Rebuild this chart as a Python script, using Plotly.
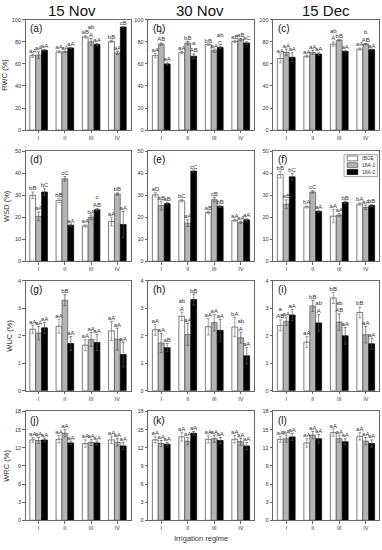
import plotly.graph_objects as go

categories = ["I", "II", "III", "IV"]
series_names = ["IBGE", "18A-1", "18A-2"]
dates = ["15 Nov", "30 Nov", "15 Dec"]
variables = ["RWC (%)", "WSD (%)", "WUC (%)", "WRC (%)"]
panel_letters = ["(a)", "(b)", "(c)", "(d)", "(e)", "(f)", "(g)", "(h)", "(i)", "(j)", "(k)", "(l)"]

# values per panel: [IBGE, 18A-1, 18A-2], each over I..IV
rwc_15nov = [[67.5, 71, 84.5, 80.5], [68, 71, 80, 70], [72.5, 74.5, 77.5, 93.5]]
rwc_30nov = [[67.5, 70.5, 77.5, 80.5], [78, 79, 72, 82], [60, 67, 75, 79]]
rwc_15dec = [[65, 67, 78, 73.5], [70.5, 70.5, 81.5, 78], [66, 69, 71.5, 73]]
wsd_15nov = [[30, 27.7, 16, 18], [20.4, 37.5, 20, 30.6], [31.5, 16.4, 23.4, 16.7]]
wsd_30nov = [[30.2, 27.5, 22.2, 18.6], [25.3, 17.3, 28, 17.6], [26.2, 41, 24.9, 18.8]]
wsd_15dec = [[39.4, 24.7, 20.5, 26], [25.9, 31.5, 21, 24.5], [38.4, 22.6, 26.8, 25.3]]
wuc_15nov = [[2.24, 2.35, 1.66, 2.18], [2.1, 3.3, 1.87, 1.88], [2.29, 1.72, 1.76, 1.32]]
wuc_30nov = [[2.22, 2.71, 2.33, 2.32], [1.74, 2.05, 2.48, 1.93], [1.57, 3.32, 2.2, 1.27]]
wuc_15dec = [[2.38, 1.77, 3.38, 2.85], [2.53, 3.09, 2.5, 2.04], [2.76, 2.47, 2.0, 1.71]]
wrc_15nov = [[13.3, 13.4, 12.7, 13.3], [13.2, 14.4, 12.9, 12.9], [13.3, 12.8, 12.8, 12.3]]
wrc_30nov = [[13.3, 13.8, 13.4, 13.4], [12.7, 13.1, 13.5, 13.0], [12.6, 14.4, 13.2, 12.3]]
wrc_15dec = [[13.4, 12.8, 14.5, 13.9], [13.5, 14.1, 13.5, 13.1], [13.8, 13.5, 13.0, 12.7]]

# standard errors
rwc_15nov_err = [[1.5, 1, 1, 1], [3, 0.5, 3, 1.5], [0.5, 0.5, 1, 0.5]]
rwc_30nov_err = [[2, 1, 0.5, 1], [1, 1.5, 1.5, 1], [1, 2, 1, 1]]
rwc_15dec_err = [[4, 1, 2, 1], [3, 2, 0.5, 0.5], [4, 1, 0.5, 0.5]]
wsd_15nov_err = [[1.5, 1, 0.5, 2], [2, 1, 1, 0.5], [1.5, 0.5, 0.5, 6]]
wsd_30nov_err = [[1, 0.5, 0.5, 0.5], [2, 1.5, 1, 0.5], [0.5, 0.5, 0.5, 0.5]]
wsd_15dec_err = [[1.5, 0.5, 3, 0.5], [2, 0.5, 0.5, 1], [1.5, 0.5, 0.5, 0.5]]
wuc_15nov_err = [[0.15, 0.25, 0.2, 0.35], [0.25, 0.2, 0.25, 0.4], [0.2, 0.25, 0.3, 0.45]]
wuc_30nov_err = [[0.2, 0.15, 0.3, 0.35], [0.35, 0.4, 0.3, 0.2], [0.15, 0.2, 0.4, 0.3]]
wuc_15dec_err = [[0.2, 0.2, 0.2, 0.2], [0.15, 0.2, 0.3, 0.3], [0.2, 0.3, 0.3, 0.2]]
wrc_15nov_err = [[0.4, 0.6, 0.6, 0.6], [0.5, 0.6, 0.5, 0.6], [0.3, 0.3, 0.3, 0.6]]
wrc_30nov_err = [[0.5, 0.7, 0.6, 0.6], [0.5, 0.6, 0.6, 0.6], [0.3, 0.3, 0.5, 0.6]]
wrc_15dec_err = [[0.5, 0.7, 0.6, 0.6], [0.6, 0.6, 0.6, 0.6], [0.6, 0.7, 0.5, 0.6]]

# significance letters
rwc_15nov_lab = [["aA", "aA", "aB", "bB"], ["aA", "aA", "ab<br>A", "aA"], ["aA", "aA", "aA", "cB"]]
rwc_30nov_lab = [["aA", "aA", "bB", "aB"], ["b<br>AB", "bB", "aA", "aB"], ["aA", "a<br>AB", "ab<br>C", "aC"]]
rwc_15dec_lab = [["aA", "aA", "ab<br>A", "aA"], ["aA", "aA", "bB", "b<br>AB"], ["aA", "aA", "aA", "aA"]]
wsd_15nov_lab = [["bB", "bB", "aA", "aA"], ["aA", "cC", "bA", "bB"], ["bC", "aA", "c<br>AB", "aA"]]
wsd_30nov_lab = [["aD", "bC", "aB", "aA"], ["aB", "aA", "cB", "aA"], ["aB", "cC", "bB", "aA"]]
wsd_15dec_lab = [["bB", "bA", "aA", "bA"], ["aB", "cC", "aA", "aA"], ["bC", "aA", "bB", "bB"]]
wuc_15nov_lab = [["aA", "aA", "aA", "aA"], ["aA", "bB", "aA", "aA"], ["aA", "aA", "aA", "aA"]]
wuc_30nov_lab = [["aA", "ab<br>A", "aA", "bA"], ["aA", "aA", "aA", "ab<br>A"], ["aB", "bB", "aA", "aA"]]
wuc_15dec_lab = [["a<br>AB", "aA", "bB", "bB"], ["aA", "bB", "ab<br>AB", "aA"], ["aA", "ab<br>A", "aA", "aA"]]
wrc_15nov_lab = [["aA"] * 4, ["aA"] * 4, ["aA"] * 4]
wrc_30nov_lab = [["aA"] * 4, ["aA"] * 4, ["aA"] * 4]
wrc_15dec_lab = [["aA"] * 4, ["aA"] * 4, ["aA"] * 4]

y_ranges = [100, 50, 4, 18]
y_dticks = [20, 10, 1, 3]

panels = [
    [(rwc_15nov, rwc_15nov_err, rwc_15nov_lab), (rwc_30nov, rwc_30nov_err, rwc_30nov_lab), (rwc_15dec, rwc_15dec_err, rwc_15dec_lab)],
    [(wsd_15nov, wsd_15nov_err, wsd_15nov_lab), (wsd_30nov, wsd_30nov_err, wsd_30nov_lab), (wsd_15dec, wsd_15dec_err, wsd_15dec_lab)],
    [(wuc_15nov, wuc_15nov_err, wuc_15nov_lab), (wuc_30nov, wuc_30nov_err, wuc_30nov_lab), (wuc_15dec, wuc_15dec_err, wuc_15dec_lab)],
    [(wrc_15nov, wrc_15nov_err, wrc_15nov_lab), (wrc_30nov, wrc_30nov_err, wrc_30nov_lab), (wrc_15dec, wrc_15dec_err, wrc_15dec_lab)],
]

W, H = 382, 550
FONT = "Arial, Liberation Sans, sans-serif"
fills = ["#ffffff", "#b4b4b4", "#000000"]
lines = ["#444444", "#555555", "#000000"]
err_colors = ["#777777", "#555555", "#555555"]

col_px = [(25.5, 130.5), (148, 254), (273, 379)]
row_px = [(17, 128.5), (150, 261), (281, 392), (413, 523)]
title_cx = [72, 200, 326]

xpos = [1, 2, 3, 4]
bw = 0.22
offsets = [-0.225, 0.0, 0.225]

fig = go.Figure()
layout_axes = {}
annotations = []
shapes = []

for r in range(4):
    for c in range(3):
        idx = r * 3 + c + 1
        xa = "x" if idx == 1 else f"x{idx}"
        ya = "y" if idx == 1 else f"y{idx}"
        vals, errs, labs = panels[r][c]
        for s in range(3):
            xs = [p + offsets[s] for p in xpos]
            fig.add_trace(go.Bar(
                x=xs, y=vals[s], width=bw, xaxis=xa, yaxis=ya,
                marker=dict(color=fills[s], line=dict(color=lines[s], width=0.7)),
                error_y=dict(type="data", array=errs[s], color=err_colors[s], thickness=0.7, width=1.5),
                name=series_names[s], showlegend=False, hoverinfo="skip",
            ))
            fig.add_trace(go.Scatter(
                x=xs, y=[v + e for v, e in zip(vals[s], errs[s])], xaxis=xa, yaxis=ya,
                mode="text", text=labs[s], textposition="top center",
                textfont=dict(size=6, color="#333333", family=FONT),
                showlegend=False, hoverinfo="skip", cliponaxis=False,
            ))
        x0, x1 = col_px[c]
        y0, y1 = row_px[r]
        xkey = "xaxis" if idx == 1 else f"xaxis{idx}"
        ykey = "yaxis" if idx == 1 else f"yaxis{idx}"
        layout_axes[xkey] = dict(
            domain=[x0 / W, x1 / W], anchor=ya, range=[0.5, 4.5],
            tickmode="array", tickvals=xpos, ticktext=categories,
            showline=True, mirror=True, linecolor="#666666", linewidth=0.8,
            ticks="outside", ticklen=2.5, tickwidth=0.6, tickcolor="#666666",
            tickfont=dict(size=5.5, family=FONT, color="#333333"), showgrid=False, zeroline=False,
            fixedrange=True,
        )
        layout_axes[ykey] = dict(
            domain=[1 - y1 / H, 1 - y0 / H], anchor=xa, range=[0, y_ranges[r]],
            dtick=y_dticks[r], tick0=0,
            showline=True, mirror=True, linecolor="#666666", linewidth=0.8,
            ticks="outside", ticklen=2.5, tickwidth=0.6, tickcolor="#666666",
            tickfont=dict(size=5.5, family=FONT, color="#333333"), showgrid=False, zeroline=False,
            fixedrange=True,
            title=dict(text=variables[r] if c == 0 else "", font=dict(size=7.5, family=FONT, color="#333333"), standoff=4),
        )
        annotations.append(dict(
            text=panel_letters[idx - 1], xref=f"{xa} domain", yref=f"{ya} domain",
            x=0.025, y=0.99, xanchor="left", yanchor="top", showarrow=False,
            font=dict(size=10, family=FONT, color="#111111"),
        ))

for c in range(3):
    annotations.append(dict(
        text=dates[c], xref="paper", yref="paper", x=title_cx[c] / W, y=1 - 8 / H,
        xanchor="center", yanchor="middle", showarrow=False,
        font=dict(size=15, family=FONT, color="#111111"),
    ))

annotations.append(dict(
    text="Irrigation regime", xref="paper", yref="paper", x=201 / W, y=1 - 541 / H,
    xanchor="center", yanchor="middle", showarrow=False,
    font=dict(size=7.5, family=FONT, color="#333333"),
))

# legend in panel (f)
leg_x0, leg_x1 = 0.67, 0.985
leg_y1 = 0.97
leg_h = 0.062
for s in range(3):
    yt = leg_y1 - 0.012 - s * leg_h
    shapes.append(dict(type="rect", xref="x6 domain", yref="y6 domain",
                       x0=leg_x0 + 0.03, x1=leg_x0 + 0.13, y0=yt - 0.045, y1=yt,
                       fillcolor=fills[s], line=dict(color=lines[s], width=0.7)))
    annotations.append(dict(text=series_names[s], xref="x6 domain", yref="y6 domain",
                            x=leg_x0 + 0.15, y=yt - 0.0225, xanchor="left", yanchor="middle",
                            showarrow=False, font=dict(size=5, family=FONT, color="#333333")))
shapes.append(dict(type="rect", xref="x6 domain", yref="y6 domain",
                   x0=leg_x0, x1=leg_x1, y0=leg_y1 - 0.2, y1=leg_y1,
                   fillcolor="rgba(0,0,0,0)", line=dict(color="#666666", width=0.6)))

fig.update_layout(
    width=W, height=H, margin=dict(l=0, r=0, t=0, b=0),
    paper_bgcolor="white", plot_bgcolor="white",
    barmode="overlay", showlegend=False,
    annotations=annotations, shapes=shapes,
    font=dict(family=FONT),
    **layout_axes,
)

fig.write_html(
    "out.html",
    config={"displayModeBar": False},
    post_script="document.body.style.margin='0';document.body.style.padding='0';document.body.style.overflow='hidden';",
)
